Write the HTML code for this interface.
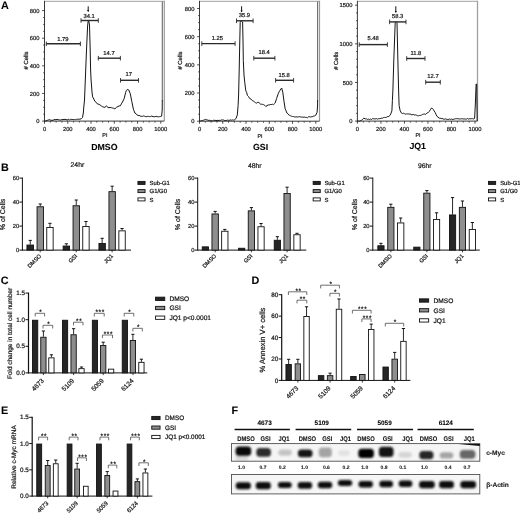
<!DOCTYPE html>
<html><head><meta charset="utf-8"><style>
html,body{margin:0;padding:0;background:#fff;}
svg{display:block;font-family:"Liberation Sans", sans-serif;filter:grayscale(100%);text-rendering:geometricPrecision;}
text{stroke:#1a1a1a;stroke-width:0.22px;}
text[font-weight=bold]{stroke-width:0.08px;}
</style></head><body>
<svg width="520" height="513" viewBox="0 0 520 513">
<rect width="520" height="513" fill="#fff"/>
<text x="1.1" y="8.8" font-size="10.8" text-anchor="start" font-weight="bold" fill="#000" >A</text>
<text x="1.1" y="171.2" font-size="10.8" text-anchor="start" font-weight="bold" fill="#000" >B</text>
<text x="0.7" y="284.1" font-size="10.8" text-anchor="start" font-weight="bold" fill="#000" >C</text>
<text x="251.6" y="283.8" font-size="10.8" text-anchor="start" font-weight="bold" fill="#000" >D</text>
<text x="0.9" y="413.6" font-size="10.8" text-anchor="start" font-weight="bold" fill="#000" >E</text>
<text x="231.4" y="414" font-size="10.8" text-anchor="start" font-weight="bold" fill="#000" >F</text>
<line x1="44.5" y1="1.3" x2="164.3" y2="1.3" stroke="#b3b3b3" stroke-width="1.3" />
<line x1="164.3" y1="0.7" x2="164.3" y2="121.1" stroke="#9a9a9a" stroke-width="1.2" />
<line x1="162.3" y1="100.5" x2="162.3" y2="1.4" stroke="#6a6a6a" stroke-width="1.1" />
<polyline points="44.6,121.2 45.8,120.95 47,120.6 47.93,120.07 48.87,119.9 49.8,119.7 50.9,120.37 52,120.2 53,120.35 54,119.71 55,119.6 56,119.78 57,119.36 58,119.5 58.8,119.86 59.6,119.87 60.4,120.02 61.2,119.67 62,119.8 63,119.45 64,119.41 65,119.4 66,119.5 67,119.97 68,119.7 68.8,119.26 69.6,119.92 70.4,119.4 71.2,119.4 72,119.5 72.86,119.55 73.72,119.55 74.58,119.56 75.44,119.66 76.3,119.4 77.22,119.17 78.15,119.39 79.08,119.09 80,119.2 81.5,118.6 82.5,117.5 83.3,113 83.8,107 84.5,100 85.5,75 86.5,50 87.6,26 88.2,20.8 88.8,21 89.5,25 90.2,50 90.6,70 91.1,80 92,92 92.6,96.9 93.4,98.01 94.2,100 95.2,101.61 96.2,102.25 97.2,103.8 98.12,104.03 99.04,104.45 99.96,104.8 100.88,105.61 101.8,106.2 102.83,106.92 103.87,107.12 104.9,107.4 106.5,105.8 108,107.7 109,107.62 110,107.5 110.87,107.52 111.73,107.78 112.6,108 113.75,108.27 114.9,108.9 116.5,107.3 118,106.5 119.15,105.92 120.3,105.8 121.8,103.1 123,101 124.2,98.5 125.7,92.3 126.5,90.2 127.2,89.5 128,89.76 128.8,90 130.3,93.8 131.8,101.5 133.4,109.2 134.9,113.1 136.05,113.65 137.2,115.1 138.12,115.6 139.04,115.39 139.96,115.89 140.88,116.38 141.8,116.2 142.66,116.31 143.51,115.91 144.37,116.15 145.22,116.51 146.08,116.62 146.93,116.7 147.79,116.26 148.64,116.42 149.5,116.6 150.33,116.63 151.17,116.01 152,116.3 153.1,116.44 154.2,116.9 155.13,116.55 156.07,116.36 157,116.5 157.82,116.79 158.65,116.8 159.48,116.66 160.3,116.5 161.6,116.2 162.2,110 162.3,100" fill="none" stroke="#151515" stroke-width="1.0" stroke-linejoin="round"/>
<line x1="44.5" y1="0.8" x2="44.5" y2="121.5" stroke="#222" stroke-width="0.9" />
<line x1="44.1" y1="121.1" x2="164.3" y2="121.1" stroke="#222" stroke-width="0.9" />
<line x1="42.1" y1="121.1" x2="44.5" y2="121.1" stroke="#222" stroke-width="0.8" />
<text x="39.5" y="123.2" font-size="5.8" text-anchor="end" font-weight="normal" fill="#1a1a1a" >0</text>
<line x1="42.1" y1="93.47" x2="44.5" y2="93.47" stroke="#222" stroke-width="0.8" />
<text x="39.5" y="95.57" font-size="5.8" text-anchor="end" font-weight="normal" fill="#1a1a1a" >200</text>
<line x1="42.1" y1="65.85" x2="44.5" y2="65.85" stroke="#222" stroke-width="0.8" />
<text x="39.5" y="67.95" font-size="5.8" text-anchor="end" font-weight="normal" fill="#1a1a1a" >400</text>
<line x1="42.1" y1="38.22" x2="44.5" y2="38.22" stroke="#222" stroke-width="0.8" />
<text x="39.5" y="40.32" font-size="5.8" text-anchor="end" font-weight="normal" fill="#1a1a1a" >600</text>
<line x1="42.1" y1="10.6" x2="44.5" y2="10.6" stroke="#222" stroke-width="0.8" />
<text x="39.5" y="12.7" font-size="5.8" text-anchor="end" font-weight="normal" fill="#1a1a1a" >800</text>
<line x1="43.1" y1="114.19" x2="44.5" y2="114.19" stroke="#222" stroke-width="0.7" />
<line x1="43.1" y1="107.29" x2="44.5" y2="107.29" stroke="#222" stroke-width="0.7" />
<line x1="43.1" y1="100.38" x2="44.5" y2="100.38" stroke="#222" stroke-width="0.7" />
<line x1="43.1" y1="86.57" x2="44.5" y2="86.57" stroke="#222" stroke-width="0.7" />
<line x1="43.1" y1="79.66" x2="44.5" y2="79.66" stroke="#222" stroke-width="0.7" />
<line x1="43.1" y1="72.76" x2="44.5" y2="72.76" stroke="#222" stroke-width="0.7" />
<line x1="43.1" y1="58.94" x2="44.5" y2="58.94" stroke="#222" stroke-width="0.7" />
<line x1="43.1" y1="52.04" x2="44.5" y2="52.04" stroke="#222" stroke-width="0.7" />
<line x1="43.1" y1="45.13" x2="44.5" y2="45.13" stroke="#222" stroke-width="0.7" />
<line x1="43.1" y1="31.32" x2="44.5" y2="31.32" stroke="#222" stroke-width="0.7" />
<line x1="43.1" y1="24.41" x2="44.5" y2="24.41" stroke="#222" stroke-width="0.7" />
<line x1="43.1" y1="17.51" x2="44.5" y2="17.51" stroke="#222" stroke-width="0.7" />
<line x1="44.5" y1="121.1" x2="44.5" y2="123.7" stroke="#222" stroke-width="0.8" />
<text x="44.5" y="131.1" font-size="5.8" text-anchor="middle" font-weight="normal" fill="#1a1a1a" >0</text>
<line x1="50.31" y1="121.1" x2="50.31" y2="122.7" stroke="#222" stroke-width="0.7" />
<line x1="56.13" y1="121.1" x2="56.13" y2="122.7" stroke="#222" stroke-width="0.7" />
<line x1="61.95" y1="121.1" x2="61.95" y2="122.7" stroke="#222" stroke-width="0.7" />
<line x1="67.76" y1="121.1" x2="67.76" y2="123.7" stroke="#222" stroke-width="0.8" />
<text x="67.76" y="131.1" font-size="5.8" text-anchor="middle" font-weight="normal" fill="#1a1a1a" >200</text>
<line x1="73.58" y1="121.1" x2="73.58" y2="122.7" stroke="#222" stroke-width="0.7" />
<line x1="79.39" y1="121.1" x2="79.39" y2="122.7" stroke="#222" stroke-width="0.7" />
<line x1="85.21" y1="121.1" x2="85.21" y2="122.7" stroke="#222" stroke-width="0.7" />
<line x1="91.02" y1="121.1" x2="91.02" y2="123.7" stroke="#222" stroke-width="0.8" />
<text x="91.02" y="131.1" font-size="5.8" text-anchor="middle" font-weight="normal" fill="#1a1a1a" >400</text>
<line x1="96.84" y1="121.1" x2="96.84" y2="122.7" stroke="#222" stroke-width="0.7" />
<line x1="102.65" y1="121.1" x2="102.65" y2="122.7" stroke="#222" stroke-width="0.7" />
<line x1="108.47" y1="121.1" x2="108.47" y2="122.7" stroke="#222" stroke-width="0.7" />
<line x1="114.28" y1="121.1" x2="114.28" y2="123.7" stroke="#222" stroke-width="0.8" />
<text x="114.28" y="131.1" font-size="5.8" text-anchor="middle" font-weight="normal" fill="#1a1a1a" >600</text>
<line x1="120.1" y1="121.1" x2="120.1" y2="122.7" stroke="#222" stroke-width="0.7" />
<line x1="125.91" y1="121.1" x2="125.91" y2="122.7" stroke="#222" stroke-width="0.7" />
<line x1="131.73" y1="121.1" x2="131.73" y2="122.7" stroke="#222" stroke-width="0.7" />
<line x1="137.54" y1="121.1" x2="137.54" y2="123.7" stroke="#222" stroke-width="0.8" />
<text x="137.54" y="131.1" font-size="5.8" text-anchor="middle" font-weight="normal" fill="#1a1a1a" >800</text>
<line x1="143.36" y1="121.1" x2="143.36" y2="122.7" stroke="#222" stroke-width="0.7" />
<line x1="149.17" y1="121.1" x2="149.17" y2="122.7" stroke="#222" stroke-width="0.7" />
<line x1="154.99" y1="121.1" x2="154.99" y2="122.7" stroke="#222" stroke-width="0.7" />
<line x1="160.8" y1="121.1" x2="160.8" y2="123.7" stroke="#222" stroke-width="0.8" />
<text x="160.8" y="131.1" font-size="5.8" text-anchor="middle" font-weight="normal" fill="#1a1a1a" >1000</text>
<text x="104.9" y="137.4" font-size="5.4" text-anchor="middle" font-weight="normal" fill="#1a1a1a" >PI</text>
<text transform="translate(27.7,60.5) rotate(-90)" font-size="5.9" text-anchor="middle" font-weight="normal" fill="#1a1a1a"># Cells</text>
<line x1="46.3" y1="43.8" x2="80.4" y2="43.8" stroke="#2a2a2a" stroke-width="1.4" />
<line x1="46.3" y1="41.5" x2="46.3" y2="46.1" stroke="#2a2a2a" stroke-width="0.9" />
<line x1="80.4" y1="41.5" x2="80.4" y2="46.1" stroke="#2a2a2a" stroke-width="0.9" />
<text x="62.9" y="40.6" font-size="5.8" text-anchor="middle" font-weight="normal" fill="#1a1a1a" >1.79</text>
<line x1="81" y1="20.5" x2="98.3" y2="20.5" stroke="#2a2a2a" stroke-width="1.4" />
<line x1="81" y1="18.2" x2="81" y2="22.8" stroke="#2a2a2a" stroke-width="0.9" />
<line x1="98.3" y1="18.2" x2="98.3" y2="22.8" stroke="#2a2a2a" stroke-width="0.9" />
<text x="89.1" y="17.5" font-size="5.8" text-anchor="middle" font-weight="normal" fill="#1a1a1a" >34.1</text>
<line x1="98.3" y1="58.2" x2="120.4" y2="58.2" stroke="#2a2a2a" stroke-width="1.4" />
<line x1="98.3" y1="55.9" x2="98.3" y2="60.5" stroke="#2a2a2a" stroke-width="0.9" />
<line x1="120.4" y1="55.9" x2="120.4" y2="60.5" stroke="#2a2a2a" stroke-width="0.9" />
<text x="109" y="54.8" font-size="5.8" text-anchor="middle" font-weight="normal" fill="#1a1a1a" >14.7</text>
<line x1="120.5" y1="80.3" x2="138.5" y2="80.3" stroke="#2a2a2a" stroke-width="1.4" />
<line x1="120.5" y1="78" x2="120.5" y2="82.6" stroke="#2a2a2a" stroke-width="0.9" />
<line x1="138.5" y1="78" x2="138.5" y2="82.6" stroke="#2a2a2a" stroke-width="0.9" />
<text x="128.8" y="76" font-size="5.8" text-anchor="middle" font-weight="normal" fill="#1a1a1a" >17</text>
<line x1="88.2" y1="6.3" x2="88.2" y2="11.4" stroke="#111" stroke-width="1.0" />
<path d="M87.1,10 L88.2,11.9 L89.3,10 Z" fill="#111"/>
<text x="104.4" y="150.2" font-size="8.8" text-anchor="middle" font-weight="bold" fill="#000" >DMSO</text>
<line x1="199.5" y1="1.3" x2="319.5" y2="1.3" stroke="#b3b3b3" stroke-width="1.3" />
<line x1="319.5" y1="0.7" x2="319.5" y2="121.2" stroke="#9a9a9a" stroke-width="1.2" />
<line x1="317.6" y1="100.5" x2="317.6" y2="1.4" stroke="#6a6a6a" stroke-width="1.1" />
<polyline points="199.6,121 200.4,121.07 201.2,120.69 202,120.6 202.82,120.6 203.65,120.12 204.48,119.81 205.3,119.4 206.2,119.71 207.1,119.89 208,120.2 208.9,120.49 209.8,120.22 210.7,120.71 211.6,120.6 212.45,120.9 213.3,120.32 214.15,120.4 215,120.2 216,120.66 217,120.31 218,120.4 218.9,120.63 219.8,120.24 220.7,120.38 221.6,119.92 222.5,119.9 223.38,119.97 224.25,120.39 225.12,120.63 226,120.3 226.8,120.44 227.6,120.11 228.4,120.37 229.2,120.32 230,120.1 230.85,119.88 231.7,120.28 232.55,119.91 233.4,120.1 234.27,120.01 235.13,119.19 236,118.6 237.3,114.9 238.1,105.6 238.6,95 239.2,70 239.8,40 240.2,22.5 241.1,20.7 242.6,22 243,40 243.3,60.5 244,75 244.8,82.8 245.8,90.8 246.7,92.5 247.4,95.4 248.55,96.62 249.7,98.5 250.73,98.89 251.77,100.14 252.8,100.8 253.75,101.29 254.7,102.06 255.65,102.77 256.6,103.1 257.75,102.41 258.9,102.3 259.7,103.33 260.5,104.3 261.5,104.23 262.5,104.32 263.5,104.6 264.65,105.22 265.8,106.5 267,105.65 268.2,104.9 269.2,105.02 270.2,104.47 271.2,104.6 272.35,104.22 273.5,104.6 274.3,103.89 275.1,103.1 276.6,98.5 278.2,93.8 279.2,91.72 280.2,90 281.7,88 282.8,92.3 283.8,100 285.1,108.5 286,110.7 286.9,113.1 287.83,113.61 288.77,114.94 289.7,115.4 290.62,115.84 291.54,116.23 292.46,116.44 293.38,116.52 294.3,116.9 295.19,117.09 296.07,116.52 296.96,117.18 297.84,117.01 298.73,116.71 299.61,116.71 300.5,116.9 301.37,117.05 302.24,117.12 303.11,117.1 303.99,117.32 304.86,116.99 305.73,117.54 306.6,117.4 307.49,117.69 308.37,116.83 309.26,116.73 310.14,116.85 311.03,117.2 311.91,116.48 312.8,116.6 313.8,115.91 314.8,115.92 315.8,115.1 317.1,112.3 317.6,105 317.6,100" fill="none" stroke="#151515" stroke-width="1.0" stroke-linejoin="round"/>
<line x1="199.5" y1="0.8" x2="199.5" y2="121.6" stroke="#222" stroke-width="0.9" />
<line x1="199.1" y1="121.2" x2="319.5" y2="121.2" stroke="#222" stroke-width="0.9" />
<line x1="197.1" y1="121.2" x2="199.5" y2="121.2" stroke="#222" stroke-width="0.8" />
<text x="194.5" y="123.3" font-size="5.8" text-anchor="end" font-weight="normal" fill="#1a1a1a" >0</text>
<line x1="197.1" y1="93.03" x2="199.5" y2="93.03" stroke="#222" stroke-width="0.8" />
<text x="194.5" y="95.12" font-size="5.8" text-anchor="end" font-weight="normal" fill="#1a1a1a" >200</text>
<line x1="197.1" y1="64.85" x2="199.5" y2="64.85" stroke="#222" stroke-width="0.8" />
<text x="194.5" y="66.95" font-size="5.8" text-anchor="end" font-weight="normal" fill="#1a1a1a" >400</text>
<line x1="197.1" y1="36.67" x2="199.5" y2="36.67" stroke="#222" stroke-width="0.8" />
<text x="194.5" y="38.77" font-size="5.8" text-anchor="end" font-weight="normal" fill="#1a1a1a" >600</text>
<line x1="197.1" y1="8.5" x2="199.5" y2="8.5" stroke="#222" stroke-width="0.8" />
<text x="194.5" y="10.6" font-size="5.8" text-anchor="end" font-weight="normal" fill="#1a1a1a" >800</text>
<line x1="198.1" y1="114.16" x2="199.5" y2="114.16" stroke="#222" stroke-width="0.7" />
<line x1="198.1" y1="107.11" x2="199.5" y2="107.11" stroke="#222" stroke-width="0.7" />
<line x1="198.1" y1="100.07" x2="199.5" y2="100.07" stroke="#222" stroke-width="0.7" />
<line x1="198.1" y1="85.98" x2="199.5" y2="85.98" stroke="#222" stroke-width="0.7" />
<line x1="198.1" y1="78.94" x2="199.5" y2="78.94" stroke="#222" stroke-width="0.7" />
<line x1="198.1" y1="71.89" x2="199.5" y2="71.89" stroke="#222" stroke-width="0.7" />
<line x1="198.1" y1="57.81" x2="199.5" y2="57.81" stroke="#222" stroke-width="0.7" />
<line x1="198.1" y1="50.76" x2="199.5" y2="50.76" stroke="#222" stroke-width="0.7" />
<line x1="198.1" y1="43.72" x2="199.5" y2="43.72" stroke="#222" stroke-width="0.7" />
<line x1="198.1" y1="29.63" x2="199.5" y2="29.63" stroke="#222" stroke-width="0.7" />
<line x1="198.1" y1="22.59" x2="199.5" y2="22.59" stroke="#222" stroke-width="0.7" />
<line x1="198.1" y1="15.54" x2="199.5" y2="15.54" stroke="#222" stroke-width="0.7" />
<line x1="199.5" y1="121.2" x2="199.5" y2="123.8" stroke="#222" stroke-width="0.8" />
<text x="199.5" y="131.2" font-size="5.8" text-anchor="middle" font-weight="normal" fill="#1a1a1a" >0</text>
<line x1="205.31" y1="121.2" x2="205.31" y2="122.8" stroke="#222" stroke-width="0.7" />
<line x1="211.13" y1="121.2" x2="211.13" y2="122.8" stroke="#222" stroke-width="0.7" />
<line x1="216.94" y1="121.2" x2="216.94" y2="122.8" stroke="#222" stroke-width="0.7" />
<line x1="222.76" y1="121.2" x2="222.76" y2="123.8" stroke="#222" stroke-width="0.8" />
<text x="222.76" y="131.2" font-size="5.8" text-anchor="middle" font-weight="normal" fill="#1a1a1a" >200</text>
<line x1="228.57" y1="121.2" x2="228.57" y2="122.8" stroke="#222" stroke-width="0.7" />
<line x1="234.39" y1="121.2" x2="234.39" y2="122.8" stroke="#222" stroke-width="0.7" />
<line x1="240.21" y1="121.2" x2="240.21" y2="122.8" stroke="#222" stroke-width="0.7" />
<line x1="246.02" y1="121.2" x2="246.02" y2="123.8" stroke="#222" stroke-width="0.8" />
<text x="246.02" y="131.2" font-size="5.8" text-anchor="middle" font-weight="normal" fill="#1a1a1a" >400</text>
<line x1="251.84" y1="121.2" x2="251.84" y2="122.8" stroke="#222" stroke-width="0.7" />
<line x1="257.65" y1="121.2" x2="257.65" y2="122.8" stroke="#222" stroke-width="0.7" />
<line x1="263.47" y1="121.2" x2="263.47" y2="122.8" stroke="#222" stroke-width="0.7" />
<line x1="269.28" y1="121.2" x2="269.28" y2="123.8" stroke="#222" stroke-width="0.8" />
<text x="269.28" y="131.2" font-size="5.8" text-anchor="middle" font-weight="normal" fill="#1a1a1a" >600</text>
<line x1="275.1" y1="121.2" x2="275.1" y2="122.8" stroke="#222" stroke-width="0.7" />
<line x1="280.91" y1="121.2" x2="280.91" y2="122.8" stroke="#222" stroke-width="0.7" />
<line x1="286.73" y1="121.2" x2="286.73" y2="122.8" stroke="#222" stroke-width="0.7" />
<line x1="292.54" y1="121.2" x2="292.54" y2="123.8" stroke="#222" stroke-width="0.8" />
<text x="292.54" y="131.2" font-size="5.8" text-anchor="middle" font-weight="normal" fill="#1a1a1a" >800</text>
<line x1="298.36" y1="121.2" x2="298.36" y2="122.8" stroke="#222" stroke-width="0.7" />
<line x1="304.17" y1="121.2" x2="304.17" y2="122.8" stroke="#222" stroke-width="0.7" />
<line x1="309.99" y1="121.2" x2="309.99" y2="122.8" stroke="#222" stroke-width="0.7" />
<line x1="315.8" y1="121.2" x2="315.8" y2="123.8" stroke="#222" stroke-width="0.8" />
<text x="315.8" y="131.2" font-size="5.8" text-anchor="middle" font-weight="normal" fill="#1a1a1a" >1000</text>
<text x="260" y="137.5" font-size="5.4" text-anchor="middle" font-weight="normal" fill="#1a1a1a" >PI</text>
<text transform="translate(182.3,60.6) rotate(-90)" font-size="5.9" text-anchor="middle" font-weight="normal" fill="#1a1a1a"># Cells</text>
<line x1="201.8" y1="43.6" x2="235.1" y2="43.6" stroke="#2a2a2a" stroke-width="1.4" />
<line x1="201.8" y1="41.3" x2="201.8" y2="45.9" stroke="#2a2a2a" stroke-width="0.9" />
<line x1="235.1" y1="41.3" x2="235.1" y2="45.9" stroke="#2a2a2a" stroke-width="0.9" />
<text x="217.4" y="40.4" font-size="5.8" text-anchor="middle" font-weight="normal" fill="#1a1a1a" >1.25</text>
<line x1="236.5" y1="20.8" x2="253.1" y2="20.8" stroke="#2a2a2a" stroke-width="1.4" />
<line x1="236.5" y1="18.5" x2="236.5" y2="23.1" stroke="#2a2a2a" stroke-width="0.9" />
<line x1="253.1" y1="18.5" x2="253.1" y2="23.1" stroke="#2a2a2a" stroke-width="0.9" />
<text x="244.4" y="17.2" font-size="5.8" text-anchor="middle" font-weight="normal" fill="#1a1a1a" >35.9</text>
<line x1="253.8" y1="58.2" x2="274.9" y2="58.2" stroke="#2a2a2a" stroke-width="1.4" />
<line x1="253.8" y1="55.9" x2="253.8" y2="60.5" stroke="#2a2a2a" stroke-width="0.9" />
<line x1="274.9" y1="55.9" x2="274.9" y2="60.5" stroke="#2a2a2a" stroke-width="0.9" />
<text x="264.2" y="54.2" font-size="5.8" text-anchor="middle" font-weight="normal" fill="#1a1a1a" >18.4</text>
<line x1="275.6" y1="80.3" x2="293.6" y2="80.3" stroke="#2a2a2a" stroke-width="1.4" />
<line x1="275.6" y1="78" x2="275.6" y2="82.6" stroke="#2a2a2a" stroke-width="0.9" />
<line x1="293.6" y1="78" x2="293.6" y2="82.6" stroke="#2a2a2a" stroke-width="0.9" />
<text x="284.2" y="76.7" font-size="5.8" text-anchor="middle" font-weight="normal" fill="#1a1a1a" >15.8</text>
<line x1="241.6" y1="6.3" x2="241.6" y2="11.8" stroke="#111" stroke-width="1.0" />
<path d="M240.5,10.4 L241.6,12.3 L242.7,10.4 Z" fill="#111"/>
<text x="260.5" y="149.7" font-size="8.8" text-anchor="middle" font-weight="bold" fill="#000" >GSI</text>
<line x1="357.4" y1="1.3" x2="477.5" y2="1.3" stroke="#b3b3b3" stroke-width="1.3" />
<line x1="477.5" y1="0.7" x2="477.5" y2="121.1" stroke="#a0a0a0" stroke-width="1.3" />
<polyline points="357.6,121 358.63,121.23 359.67,121.14 360.7,120.6 361.5,120.28 362.3,119.6 363.8,118.2 365.4,118.9 366.45,118.87 367.5,119.4 368.53,119.14 369.57,119.54 370.6,119.1 371.47,119.46 372.33,118.7 373.2,118.64 374.07,119.08 374.93,118.7 375.8,118.9 376.67,118.58 377.53,119.11 378.4,118.78 379.27,118.64 380.13,118.67 381,118.2 381.87,118.24 382.73,118.12 383.6,117.59 384.47,117.39 385.33,117.5 386.2,117.5 387.03,116.8 387.87,116.49 388.7,116.5 389.75,115.64 390.8,113.9 391.9,110.8 392.4,100.4 392.9,90 393.8,60 395.2,22.6 396.1,21.7 397,22.6 398.1,70 398.6,90 399.1,105.6 400.2,110.8 401.5,113.1 402.53,113.55 403.57,113.19 404.6,113.8 405.52,114.11 406.44,113.88 407.36,113.96 408.28,113.87 409.2,114.2 410.12,113.84 411.04,114.67 411.96,114.79 412.88,114.56 413.8,114.6 414.74,115.11 415.68,114.87 416.62,115.3 417.56,115.72 418.5,115.8 419.5,115.48 420.5,115.41 421.5,115.1 422.44,114.49 423.38,114.21 424.32,113.98 425.26,114.46 426.2,113.8 427.2,112.83 428.2,112.65 429.2,111.5 430.35,109.79 431.5,108 432.3,108.32 433.1,109.2 434.1,110.97 435.1,112.3 436,114.4 436.9,116.2 438.05,117.13 439.2,118.2 440.18,118.1 441.15,118.7 442.12,118.42 443.1,118.9 443.92,119.28 444.75,119.09 445.57,118.91 446.39,119.23 447.22,119.46 448.04,119.36 448.86,119.46 449.68,118.96 450.51,119.38 451.33,119.07 452.15,119.32 452.98,119.53 453.8,119.2 454.66,119.09 455.51,118.69 456.37,118.65 457.22,118.77 458.08,118.63 458.93,118.9 459.79,119.03 460.64,118.88 461.5,118.8 462.35,118.7 463.19,119.1 464.04,118.57 464.88,119.23 465.73,119.04 466.57,119 467.42,118.55 468.26,119.16 469.11,118.72 469.95,118.75 470.8,118.9 471.75,118.6 472.7,118.68 473.65,118.98 474.6,118.5 475.4,103 476.1,84 476.7,84 477.2,121" fill="none" stroke="#151515" stroke-width="1.0" stroke-linejoin="round"/>
<line x1="357.4" y1="0.8" x2="357.4" y2="121.5" stroke="#222" stroke-width="0.9" />
<line x1="357" y1="121.1" x2="477.5" y2="121.1" stroke="#222" stroke-width="0.9" />
<line x1="355" y1="121.1" x2="357.4" y2="121.1" stroke="#222" stroke-width="0.8" />
<text x="352.4" y="123.2" font-size="5.8" text-anchor="end" font-weight="normal" fill="#1a1a1a" >0</text>
<line x1="355" y1="82.47" x2="357.4" y2="82.47" stroke="#222" stroke-width="0.8" />
<text x="352.4" y="84.57" font-size="5.8" text-anchor="end" font-weight="normal" fill="#1a1a1a" >500</text>
<line x1="355" y1="43.83" x2="357.4" y2="43.83" stroke="#222" stroke-width="0.8" />
<text x="352.4" y="45.93" font-size="5.8" text-anchor="end" font-weight="normal" fill="#1a1a1a" >1000</text>
<line x1="355" y1="5.2" x2="357.4" y2="5.2" stroke="#222" stroke-width="0.8" />
<text x="352.4" y="7.3" font-size="5.8" text-anchor="end" font-weight="normal" fill="#1a1a1a" >1500</text>
<line x1="356" y1="113.37" x2="357.4" y2="113.37" stroke="#222" stroke-width="0.7" />
<line x1="356" y1="105.65" x2="357.4" y2="105.65" stroke="#222" stroke-width="0.7" />
<line x1="356" y1="97.92" x2="357.4" y2="97.92" stroke="#222" stroke-width="0.7" />
<line x1="356" y1="90.19" x2="357.4" y2="90.19" stroke="#222" stroke-width="0.7" />
<line x1="356" y1="74.74" x2="357.4" y2="74.74" stroke="#222" stroke-width="0.7" />
<line x1="356" y1="67.01" x2="357.4" y2="67.01" stroke="#222" stroke-width="0.7" />
<line x1="356" y1="59.29" x2="357.4" y2="59.29" stroke="#222" stroke-width="0.7" />
<line x1="356" y1="51.56" x2="357.4" y2="51.56" stroke="#222" stroke-width="0.7" />
<line x1="356" y1="36.11" x2="357.4" y2="36.11" stroke="#222" stroke-width="0.7" />
<line x1="356" y1="28.38" x2="357.4" y2="28.38" stroke="#222" stroke-width="0.7" />
<line x1="356" y1="20.65" x2="357.4" y2="20.65" stroke="#222" stroke-width="0.7" />
<line x1="356" y1="12.93" x2="357.4" y2="12.93" stroke="#222" stroke-width="0.7" />
<line x1="357.4" y1="121.1" x2="357.4" y2="123.7" stroke="#222" stroke-width="0.8" />
<text x="357.4" y="131.1" font-size="5.8" text-anchor="middle" font-weight="normal" fill="#1a1a1a" >0</text>
<line x1="363.28" y1="121.1" x2="363.28" y2="122.7" stroke="#222" stroke-width="0.7" />
<line x1="369.16" y1="121.1" x2="369.16" y2="122.7" stroke="#222" stroke-width="0.7" />
<line x1="375.04" y1="121.1" x2="375.04" y2="122.7" stroke="#222" stroke-width="0.7" />
<line x1="380.92" y1="121.1" x2="380.92" y2="123.7" stroke="#222" stroke-width="0.8" />
<text x="380.92" y="131.1" font-size="5.8" text-anchor="middle" font-weight="normal" fill="#1a1a1a" >200</text>
<line x1="386.8" y1="121.1" x2="386.8" y2="122.7" stroke="#222" stroke-width="0.7" />
<line x1="392.68" y1="121.1" x2="392.68" y2="122.7" stroke="#222" stroke-width="0.7" />
<line x1="398.56" y1="121.1" x2="398.56" y2="122.7" stroke="#222" stroke-width="0.7" />
<line x1="404.44" y1="121.1" x2="404.44" y2="123.7" stroke="#222" stroke-width="0.8" />
<text x="404.44" y="131.1" font-size="5.8" text-anchor="middle" font-weight="normal" fill="#1a1a1a" >400</text>
<line x1="410.32" y1="121.1" x2="410.32" y2="122.7" stroke="#222" stroke-width="0.7" />
<line x1="416.2" y1="121.1" x2="416.2" y2="122.7" stroke="#222" stroke-width="0.7" />
<line x1="422.08" y1="121.1" x2="422.08" y2="122.7" stroke="#222" stroke-width="0.7" />
<line x1="427.96" y1="121.1" x2="427.96" y2="123.7" stroke="#222" stroke-width="0.8" />
<text x="427.96" y="131.1" font-size="5.8" text-anchor="middle" font-weight="normal" fill="#1a1a1a" >600</text>
<line x1="433.84" y1="121.1" x2="433.84" y2="122.7" stroke="#222" stroke-width="0.7" />
<line x1="439.72" y1="121.1" x2="439.72" y2="122.7" stroke="#222" stroke-width="0.7" />
<line x1="445.6" y1="121.1" x2="445.6" y2="122.7" stroke="#222" stroke-width="0.7" />
<line x1="451.48" y1="121.1" x2="451.48" y2="123.7" stroke="#222" stroke-width="0.8" />
<text x="451.48" y="131.1" font-size="5.8" text-anchor="middle" font-weight="normal" fill="#1a1a1a" >800</text>
<line x1="457.36" y1="121.1" x2="457.36" y2="122.7" stroke="#222" stroke-width="0.7" />
<line x1="463.24" y1="121.1" x2="463.24" y2="122.7" stroke="#222" stroke-width="0.7" />
<line x1="469.12" y1="121.1" x2="469.12" y2="122.7" stroke="#222" stroke-width="0.7" />
<line x1="475" y1="121.1" x2="475" y2="123.7" stroke="#222" stroke-width="0.8" />
<text x="475" y="131.1" font-size="5.8" text-anchor="middle" font-weight="normal" fill="#1a1a1a" >1000</text>
<text x="417.95" y="137.4" font-size="5.4" text-anchor="middle" font-weight="normal" fill="#1a1a1a" >PI</text>
<text transform="translate(338.2,60.8) rotate(-90)" font-size="5.9" text-anchor="middle" font-weight="normal" fill="#1a1a1a"># Cells</text>
<line x1="359.2" y1="44.6" x2="387.4" y2="44.6" stroke="#2a2a2a" stroke-width="1.4" />
<line x1="359.2" y1="42.3" x2="359.2" y2="46.9" stroke="#2a2a2a" stroke-width="0.9" />
<line x1="387.4" y1="42.3" x2="387.4" y2="46.9" stroke="#2a2a2a" stroke-width="0.9" />
<text x="373.1" y="40" font-size="5.8" text-anchor="middle" font-weight="normal" fill="#1a1a1a" >5.48</text>
<line x1="389.6" y1="21.9" x2="406" y2="21.9" stroke="#2a2a2a" stroke-width="1.4" />
<line x1="389.6" y1="19.6" x2="389.6" y2="24.2" stroke="#2a2a2a" stroke-width="0.9" />
<line x1="406" y1="19.6" x2="406" y2="24.2" stroke="#2a2a2a" stroke-width="0.9" />
<text x="397.6" y="17.7" font-size="5.8" text-anchor="middle" font-weight="normal" fill="#1a1a1a" >58.3</text>
<line x1="406.7" y1="58.5" x2="425" y2="58.5" stroke="#2a2a2a" stroke-width="1.4" />
<line x1="406.7" y1="56.2" x2="406.7" y2="60.8" stroke="#2a2a2a" stroke-width="0.9" />
<line x1="425" y1="56.2" x2="425" y2="60.8" stroke="#2a2a2a" stroke-width="0.9" />
<text x="415.9" y="55.3" font-size="5.8" text-anchor="middle" font-weight="normal" fill="#1a1a1a" >11.8</text>
<line x1="425.7" y1="82.2" x2="440.3" y2="82.2" stroke="#2a2a2a" stroke-width="1.4" />
<line x1="425.7" y1="79.9" x2="425.7" y2="84.5" stroke="#2a2a2a" stroke-width="0.9" />
<line x1="440.3" y1="79.9" x2="440.3" y2="84.5" stroke="#2a2a2a" stroke-width="0.9" />
<text x="433" y="77.6" font-size="5.8" text-anchor="middle" font-weight="normal" fill="#1a1a1a" >12.7</text>
<line x1="395.8" y1="6.3" x2="395.8" y2="12.3" stroke="#111" stroke-width="1.0" />
<path d="M394.7,10.9 L395.8,12.8 L396.9,10.9 Z" fill="#111"/>
<text x="417.7" y="149.2" font-size="8.8" text-anchor="middle" font-weight="bold" fill="#000" >JQ1</text>
<line x1="22.4" y1="177.6" x2="22.4" y2="250.6" stroke="#111" stroke-width="1.0" />
<line x1="19.4" y1="250.1" x2="22.4" y2="250.1" stroke="#111" stroke-width="1.0" />
<text x="19.2" y="252.2" font-size="5.8" text-anchor="end" font-weight="normal" fill="#1a1a1a" >0</text>
<line x1="19.4" y1="226.1" x2="22.4" y2="226.1" stroke="#111" stroke-width="1.0" />
<text x="19.2" y="228.2" font-size="5.8" text-anchor="end" font-weight="normal" fill="#1a1a1a" >20</text>
<line x1="19.4" y1="202.1" x2="22.4" y2="202.1" stroke="#111" stroke-width="1.0" />
<text x="19.2" y="204.2" font-size="5.8" text-anchor="end" font-weight="normal" fill="#1a1a1a" >40</text>
<line x1="19.4" y1="178.1" x2="22.4" y2="178.1" stroke="#111" stroke-width="1.0" />
<text x="19.2" y="180.2" font-size="5.8" text-anchor="end" font-weight="normal" fill="#1a1a1a" >60</text>
<line x1="22" y1="250.1" x2="131" y2="250.1" stroke="#111" stroke-width="1.0" />
<line x1="30.25" y1="244.6" x2="30.25" y2="240.4" stroke="#111" stroke-width="0.9" />
<line x1="28.65" y1="240.4" x2="31.85" y2="240.4" stroke="#111" stroke-width="1.0" />
<rect x="26.95" y="245.05" width="6.6" height="5.05" fill="#262626" stroke="#111" stroke-width="0.9" />
<line x1="40.25" y1="206.3" x2="40.25" y2="204" stroke="#111" stroke-width="0.9" />
<line x1="38.65" y1="204" x2="41.85" y2="204" stroke="#111" stroke-width="1.0" />
<rect x="37.05" y="206.75" width="6.4" height="43.35" fill="#8e8e8e" stroke="#111" stroke-width="0.9" />
<line x1="49.95" y1="227" x2="49.95" y2="223.3" stroke="#111" stroke-width="0.9" />
<line x1="48.35" y1="223.3" x2="51.55" y2="223.3" stroke="#111" stroke-width="1.0" />
<rect x="46.75" y="227.45" width="6.4" height="22.65" fill="#ffffff" stroke="#111" stroke-width="0.9" />
<line x1="66.35" y1="245.6" x2="66.35" y2="243.8" stroke="#111" stroke-width="0.9" />
<line x1="64.75" y1="243.8" x2="67.95" y2="243.8" stroke="#111" stroke-width="1.0" />
<rect x="63.15" y="246.05" width="6.4" height="4.05" fill="#262626" stroke="#111" stroke-width="0.9" />
<line x1="76.25" y1="205.3" x2="76.25" y2="200" stroke="#111" stroke-width="0.9" />
<line x1="74.65" y1="200" x2="77.85" y2="200" stroke="#111" stroke-width="1.0" />
<rect x="73.05" y="205.75" width="6.4" height="44.35" fill="#8e8e8e" stroke="#111" stroke-width="0.9" />
<line x1="85.95" y1="226" x2="85.95" y2="221.5" stroke="#111" stroke-width="0.9" />
<line x1="84.35" y1="221.5" x2="87.55" y2="221.5" stroke="#111" stroke-width="1.0" />
<rect x="82.75" y="226.45" width="6.4" height="23.65" fill="#ffffff" stroke="#111" stroke-width="0.9" />
<line x1="102.15" y1="243" x2="102.15" y2="238.3" stroke="#111" stroke-width="0.9" />
<line x1="100.55" y1="238.3" x2="103.75" y2="238.3" stroke="#111" stroke-width="1.0" />
<rect x="98.95" y="243.45" width="6.4" height="6.65" fill="#262626" stroke="#111" stroke-width="0.9" />
<line x1="112.15" y1="191.2" x2="112.15" y2="186.2" stroke="#111" stroke-width="0.9" />
<line x1="110.55" y1="186.2" x2="113.75" y2="186.2" stroke="#111" stroke-width="1.0" />
<rect x="108.95" y="191.65" width="6.4" height="58.45" fill="#8e8e8e" stroke="#111" stroke-width="0.9" />
<line x1="122.05" y1="230.4" x2="122.05" y2="228.5" stroke="#111" stroke-width="0.9" />
<line x1="120.45" y1="228.5" x2="123.65" y2="228.5" stroke="#111" stroke-width="1.0" />
<rect x="118.85" y="230.85" width="6.4" height="19.25" fill="#ffffff" stroke="#111" stroke-width="0.9" />
<line x1="40.2" y1="250.1" x2="40.2" y2="252.3" stroke="#111" stroke-width="0.8" />
<text transform="translate(41.6,256.4) rotate(-45)" font-size="5.6" text-anchor="end" font-weight="normal" fill="#1a1a1a">DMSO</text>
<line x1="76.2" y1="250.1" x2="76.2" y2="252.3" stroke="#111" stroke-width="0.8" />
<text transform="translate(77.6,256.4) rotate(-45)" font-size="5.6" text-anchor="end" font-weight="normal" fill="#1a1a1a">GSI</text>
<line x1="112.1" y1="250.1" x2="112.1" y2="252.3" stroke="#111" stroke-width="0.8" />
<text transform="translate(113.5,256.4) rotate(-45)" font-size="5.6" text-anchor="end" font-weight="normal" fill="#1a1a1a">JQ1</text>
<text x="77.4" y="167.3" font-size="6.8" text-anchor="middle" font-weight="normal" fill="#1a1a1a" >24hr</text>
<rect x="137.95" y="181.4" width="7.1" height="3" fill="#262626" stroke="#111" stroke-width="0.9" />
<text x="149.6" y="185.02" font-size="5.9" text-anchor="start" font-weight="normal" fill="#111" >Sub-G1</text>
<rect x="137.95" y="189.6" width="7.1" height="3" fill="#8e8e8e" stroke="#111" stroke-width="0.9" />
<text x="149.6" y="193.22" font-size="5.9" text-anchor="start" font-weight="normal" fill="#111" >G1/G0</text>
<rect x="137.95" y="197.9" width="7.1" height="3" fill="#ffffff" stroke="#111" stroke-width="0.9" />
<text x="149.6" y="201.52" font-size="5.9" text-anchor="start" font-weight="normal" fill="#111" >S</text>
<text transform="translate(5.2,214.4) rotate(-90)" font-size="7.0" text-anchor="middle" font-weight="normal" fill="#1a1a1a">% of Cells</text>
<line x1="197.7" y1="177.6" x2="197.7" y2="250.6" stroke="#111" stroke-width="1.0" />
<line x1="194.7" y1="250.1" x2="197.7" y2="250.1" stroke="#111" stroke-width="1.0" />
<text x="194.5" y="252.2" font-size="5.8" text-anchor="end" font-weight="normal" fill="#1a1a1a" >0</text>
<line x1="194.7" y1="226.1" x2="197.7" y2="226.1" stroke="#111" stroke-width="1.0" />
<text x="194.5" y="228.2" font-size="5.8" text-anchor="end" font-weight="normal" fill="#1a1a1a" >20</text>
<line x1="194.7" y1="202.1" x2="197.7" y2="202.1" stroke="#111" stroke-width="1.0" />
<text x="194.5" y="204.2" font-size="5.8" text-anchor="end" font-weight="normal" fill="#1a1a1a" >40</text>
<line x1="194.7" y1="178.1" x2="197.7" y2="178.1" stroke="#111" stroke-width="1.0" />
<text x="194.5" y="180.2" font-size="5.8" text-anchor="end" font-weight="normal" fill="#1a1a1a" >60</text>
<line x1="197.3" y1="250.1" x2="306.3" y2="250.1" stroke="#111" stroke-width="1.0" />
<rect x="202.25" y="246.85" width="6.2" height="3.25" fill="#262626" stroke="#111" stroke-width="0.9" />
<line x1="215.15" y1="213.5" x2="215.15" y2="211.4" stroke="#111" stroke-width="0.9" />
<line x1="213.55" y1="211.4" x2="216.75" y2="211.4" stroke="#111" stroke-width="1.0" />
<rect x="211.95" y="213.95" width="6.4" height="36.15" fill="#8e8e8e" stroke="#111" stroke-width="0.9" />
<line x1="224.8" y1="230.8" x2="224.8" y2="229.4" stroke="#111" stroke-width="0.9" />
<line x1="223.2" y1="229.4" x2="226.4" y2="229.4" stroke="#111" stroke-width="1.0" />
<rect x="221.65" y="231.25" width="6.3" height="18.85" fill="#ffffff" stroke="#111" stroke-width="0.9" />
<rect x="238.55" y="248.25" width="6.2" height="1.85" fill="#262626" stroke="#111" stroke-width="0.9" />
<line x1="251.4" y1="210.4" x2="251.4" y2="207.6" stroke="#111" stroke-width="0.9" />
<line x1="249.8" y1="207.6" x2="253" y2="207.6" stroke="#111" stroke-width="1.0" />
<rect x="248.25" y="210.85" width="6.3" height="39.25" fill="#8e8e8e" stroke="#111" stroke-width="0.9" />
<line x1="261.05" y1="226.3" x2="261.05" y2="223.5" stroke="#111" stroke-width="0.9" />
<line x1="259.45" y1="223.5" x2="262.65" y2="223.5" stroke="#111" stroke-width="1.0" />
<rect x="257.95" y="226.75" width="6.2" height="23.35" fill="#ffffff" stroke="#111" stroke-width="0.9" />
<line x1="277.35" y1="239.8" x2="277.35" y2="236.7" stroke="#111" stroke-width="0.9" />
<line x1="275.75" y1="236.7" x2="278.95" y2="236.7" stroke="#111" stroke-width="1.0" />
<rect x="274.25" y="240.25" width="6.2" height="9.85" fill="#262626" stroke="#111" stroke-width="0.9" />
<line x1="287.1" y1="193" x2="287.1" y2="187.2" stroke="#111" stroke-width="0.9" />
<line x1="285.5" y1="187.2" x2="288.7" y2="187.2" stroke="#111" stroke-width="1.0" />
<rect x="283.95" y="193.45" width="6.3" height="56.65" fill="#8e8e8e" stroke="#111" stroke-width="0.9" />
<line x1="297" y1="234.3" x2="297" y2="233.3" stroke="#111" stroke-width="0.9" />
<line x1="295.4" y1="233.3" x2="298.6" y2="233.3" stroke="#111" stroke-width="1.0" />
<rect x="293.85" y="234.75" width="6.3" height="15.35" fill="#ffffff" stroke="#111" stroke-width="0.9" />
<line x1="215.2" y1="250.1" x2="215.2" y2="252.3" stroke="#111" stroke-width="0.8" />
<text transform="translate(216.6,256.4) rotate(-45)" font-size="5.6" text-anchor="end" font-weight="normal" fill="#1a1a1a">DMSO</text>
<line x1="251.4" y1="250.1" x2="251.4" y2="252.3" stroke="#111" stroke-width="0.8" />
<text transform="translate(252.8,256.4) rotate(-45)" font-size="5.6" text-anchor="end" font-weight="normal" fill="#1a1a1a">GSI</text>
<line x1="287.1" y1="250.1" x2="287.1" y2="252.3" stroke="#111" stroke-width="0.8" />
<text transform="translate(288.5,256.4) rotate(-45)" font-size="5.6" text-anchor="end" font-weight="normal" fill="#1a1a1a">JQ1</text>
<text x="254.8" y="167.5" font-size="6.8" text-anchor="middle" font-weight="normal" fill="#1a1a1a" >48hr</text>
<rect x="313.15" y="181.4" width="7.1" height="3" fill="#262626" stroke="#111" stroke-width="0.9" />
<text x="324.4" y="185.02" font-size="5.9" text-anchor="start" font-weight="normal" fill="#111" >Sub-G1</text>
<rect x="313.15" y="189.6" width="7.1" height="3" fill="#8e8e8e" stroke="#111" stroke-width="0.9" />
<text x="324.4" y="193.22" font-size="5.9" text-anchor="start" font-weight="normal" fill="#111" >G1/G0</text>
<rect x="313.15" y="197.9" width="7.1" height="3" fill="#ffffff" stroke="#111" stroke-width="0.9" />
<text x="324.4" y="201.52" font-size="5.9" text-anchor="start" font-weight="normal" fill="#111" >S</text>
<text transform="translate(179.5,214.4) rotate(-90)" font-size="7.0" text-anchor="middle" font-weight="normal" fill="#1a1a1a">% of Cells</text>
<line x1="372.8" y1="177.6" x2="372.8" y2="250.6" stroke="#111" stroke-width="1.0" />
<line x1="369.8" y1="250.1" x2="372.8" y2="250.1" stroke="#111" stroke-width="1.0" />
<text x="369.6" y="252.2" font-size="5.8" text-anchor="end" font-weight="normal" fill="#1a1a1a" >0</text>
<line x1="369.8" y1="226.1" x2="372.8" y2="226.1" stroke="#111" stroke-width="1.0" />
<text x="369.6" y="228.2" font-size="5.8" text-anchor="end" font-weight="normal" fill="#1a1a1a" >20</text>
<line x1="369.8" y1="202.1" x2="372.8" y2="202.1" stroke="#111" stroke-width="1.0" />
<text x="369.6" y="204.2" font-size="5.8" text-anchor="end" font-weight="normal" fill="#1a1a1a" >40</text>
<line x1="369.8" y1="178.1" x2="372.8" y2="178.1" stroke="#111" stroke-width="1.0" />
<text x="369.6" y="180.2" font-size="5.8" text-anchor="end" font-weight="normal" fill="#1a1a1a" >60</text>
<line x1="372.4" y1="250.1" x2="479.8" y2="250.1" stroke="#111" stroke-width="1.0" />
<line x1="380.95" y1="245.3" x2="380.95" y2="243.3" stroke="#111" stroke-width="0.9" />
<line x1="379.35" y1="243.3" x2="382.55" y2="243.3" stroke="#111" stroke-width="1.0" />
<rect x="377.85" y="245.75" width="6.2" height="4.35" fill="#262626" stroke="#111" stroke-width="0.9" />
<line x1="390.85" y1="206.9" x2="390.85" y2="204.2" stroke="#111" stroke-width="0.9" />
<line x1="389.25" y1="204.2" x2="392.45" y2="204.2" stroke="#111" stroke-width="1.0" />
<rect x="387.75" y="207.35" width="6.2" height="42.75" fill="#8e8e8e" stroke="#111" stroke-width="0.9" />
<line x1="400.7" y1="222.5" x2="400.7" y2="218" stroke="#111" stroke-width="0.9" />
<line x1="399.1" y1="218" x2="402.3" y2="218" stroke="#111" stroke-width="1.0" />
<rect x="397.55" y="222.95" width="6.3" height="27.15" fill="#ffffff" stroke="#111" stroke-width="0.9" />
<rect x="413.75" y="247.15" width="6.2" height="2.95" fill="#262626" stroke="#111" stroke-width="0.9" />
<line x1="426.85" y1="192.7" x2="426.85" y2="190.6" stroke="#111" stroke-width="0.9" />
<line x1="425.25" y1="190.6" x2="428.45" y2="190.6" stroke="#111" stroke-width="1.0" />
<rect x="423.75" y="193.15" width="6.2" height="56.95" fill="#8e8e8e" stroke="#111" stroke-width="0.9" />
<line x1="436.55" y1="219" x2="436.55" y2="212.8" stroke="#111" stroke-width="0.9" />
<line x1="434.95" y1="212.8" x2="438.15" y2="212.8" stroke="#111" stroke-width="1.0" />
<rect x="433.45" y="219.45" width="6.2" height="30.65" fill="#ffffff" stroke="#111" stroke-width="0.9" />
<line x1="452.55" y1="214.5" x2="452.55" y2="197.6" stroke="#111" stroke-width="0.9" />
<line x1="450.95" y1="197.6" x2="454.15" y2="197.6" stroke="#111" stroke-width="1.0" />
<rect x="449.45" y="214.95" width="6.2" height="35.15" fill="#262626" stroke="#111" stroke-width="0.9" />
<line x1="462.45" y1="206.9" x2="462.45" y2="201" stroke="#111" stroke-width="0.9" />
<line x1="460.85" y1="201" x2="464.05" y2="201" stroke="#111" stroke-width="1.0" />
<rect x="459.35" y="207.35" width="6.2" height="42.75" fill="#8e8e8e" stroke="#111" stroke-width="0.9" />
<line x1="472.35" y1="229" x2="472.35" y2="222.5" stroke="#111" stroke-width="0.9" />
<line x1="470.75" y1="222.5" x2="473.95" y2="222.5" stroke="#111" stroke-width="1.0" />
<rect x="469.25" y="229.45" width="6.2" height="20.65" fill="#ffffff" stroke="#111" stroke-width="0.9" />
<line x1="390.9" y1="250.1" x2="390.9" y2="252.3" stroke="#111" stroke-width="0.8" />
<text transform="translate(392.3,256.4) rotate(-45)" font-size="5.6" text-anchor="end" font-weight="normal" fill="#1a1a1a">DMSO</text>
<line x1="426.9" y1="250.1" x2="426.9" y2="252.3" stroke="#111" stroke-width="0.8" />
<text transform="translate(428.3,256.4) rotate(-45)" font-size="5.6" text-anchor="end" font-weight="normal" fill="#1a1a1a">GSI</text>
<line x1="462.5" y1="250.1" x2="462.5" y2="252.3" stroke="#111" stroke-width="0.8" />
<text transform="translate(463.9,256.4) rotate(-45)" font-size="5.6" text-anchor="end" font-weight="normal" fill="#1a1a1a">JQ1</text>
<text x="424.8" y="167.5" font-size="6.8" text-anchor="middle" font-weight="normal" fill="#1a1a1a" >96hr</text>
<rect x="488.55" y="181.4" width="7.1" height="3" fill="#262626" stroke="#111" stroke-width="0.9" />
<text x="500.2" y="185.02" font-size="5.9" text-anchor="start" font-weight="normal" fill="#111" >Sub-G1</text>
<rect x="488.55" y="189.6" width="7.1" height="3" fill="#8e8e8e" stroke="#111" stroke-width="0.9" />
<text x="500.2" y="193.22" font-size="5.9" text-anchor="start" font-weight="normal" fill="#111" >G1/G0</text>
<rect x="488.55" y="197.9" width="7.1" height="3" fill="#ffffff" stroke="#111" stroke-width="0.9" />
<text x="500.2" y="201.52" font-size="5.9" text-anchor="start" font-weight="normal" fill="#111" >S</text>
<text transform="translate(356.5,214.4) rotate(-90)" font-size="7.0" text-anchor="middle" font-weight="normal" fill="#1a1a1a">% of Cells</text>
<line x1="28.5" y1="292.6" x2="28.5" y2="373.4" stroke="#111" stroke-width="1.2" />
<line x1="25.5" y1="372.9" x2="28.5" y2="372.9" stroke="#111" stroke-width="1.0" />
<text x="25.1" y="375" font-size="6.3" text-anchor="end" font-weight="normal" fill="#1a1a1a" >0.0</text>
<line x1="25.5" y1="346.3" x2="28.5" y2="346.3" stroke="#111" stroke-width="1.0" />
<text x="25.1" y="348.4" font-size="6.3" text-anchor="end" font-weight="normal" fill="#1a1a1a" >0.5</text>
<line x1="25.5" y1="319.7" x2="28.5" y2="319.7" stroke="#111" stroke-width="1.0" />
<text x="25.1" y="321.8" font-size="6.3" text-anchor="end" font-weight="normal" fill="#1a1a1a" >1.0</text>
<line x1="25.5" y1="293.1" x2="28.5" y2="293.1" stroke="#111" stroke-width="1.0" />
<text x="25.1" y="295.2" font-size="6.3" text-anchor="end" font-weight="normal" fill="#1a1a1a" >1.5</text>
<line x1="28.1" y1="372.9" x2="147.3" y2="372.9" stroke="#111" stroke-width="1.0" />
<rect x="32.45" y="320.25" width="5.3" height="52.65" fill="#262626" stroke="#111" stroke-width="0.9" />
<line x1="43.4" y1="336.8" x2="43.4" y2="331" stroke="#111" stroke-width="0.9" />
<line x1="41.8" y1="331" x2="45" y2="331" stroke="#111" stroke-width="1.0" />
<rect x="40.75" y="337.25" width="5.3" height="35.65" fill="#8e8e8e" stroke="#111" stroke-width="0.9" />
<line x1="51.4" y1="357.4" x2="51.4" y2="354.8" stroke="#111" stroke-width="0.9" />
<line x1="49.8" y1="354.8" x2="53" y2="354.8" stroke="#111" stroke-width="1.0" />
<rect x="48.75" y="357.85" width="5.3" height="15.05" fill="#ffffff" stroke="#111" stroke-width="0.9" />
<rect x="62.45" y="320.25" width="5.2" height="52.65" fill="#262626" stroke="#111" stroke-width="0.9" />
<line x1="73.6" y1="334.3" x2="73.6" y2="328.7" stroke="#111" stroke-width="0.9" />
<line x1="72" y1="328.7" x2="75.2" y2="328.7" stroke="#111" stroke-width="1.0" />
<rect x="70.95" y="334.75" width="5.3" height="38.15" fill="#8e8e8e" stroke="#111" stroke-width="0.9" />
<line x1="81.5" y1="368.2" x2="81.5" y2="367" stroke="#111" stroke-width="0.9" />
<line x1="79.9" y1="367" x2="83.1" y2="367" stroke="#111" stroke-width="1.0" />
<rect x="78.85" y="368.65" width="5.3" height="4.25" fill="#ffffff" stroke="#111" stroke-width="0.9" />
<rect x="92.35" y="320.25" width="5.2" height="52.65" fill="#262626" stroke="#111" stroke-width="0.9" />
<line x1="103.2" y1="345.1" x2="103.2" y2="342.2" stroke="#111" stroke-width="0.9" />
<line x1="101.6" y1="342.2" x2="104.8" y2="342.2" stroke="#111" stroke-width="1.0" />
<rect x="100.55" y="345.55" width="5.3" height="27.35" fill="#8e8e8e" stroke="#111" stroke-width="0.9" />
<rect x="108.45" y="369.15" width="5.3" height="3.75" fill="#ffffff" stroke="#111" stroke-width="0.9" />
<rect x="122.25" y="320.25" width="5.2" height="52.65" fill="#262626" stroke="#111" stroke-width="0.9" />
<line x1="132.9" y1="340" x2="132.9" y2="334.3" stroke="#111" stroke-width="0.9" />
<line x1="131.3" y1="334.3" x2="134.5" y2="334.3" stroke="#111" stroke-width="1.0" />
<rect x="130.25" y="340.45" width="5.3" height="32.45" fill="#8e8e8e" stroke="#111" stroke-width="0.9" />
<line x1="141.4" y1="361.9" x2="141.4" y2="359.2" stroke="#111" stroke-width="0.9" />
<line x1="139.8" y1="359.2" x2="143" y2="359.2" stroke="#111" stroke-width="1.0" />
<rect x="138.75" y="362.35" width="5.3" height="10.55" fill="#ffffff" stroke="#111" stroke-width="0.9" />
<line x1="43.4" y1="372.9" x2="43.4" y2="375.1" stroke="#111" stroke-width="0.8" />
<text transform="translate(44.4,381.3) rotate(-45)" font-size="6.5" text-anchor="end" font-weight="normal" fill="#1a1a1a">4673</text>
<line x1="73.6" y1="372.9" x2="73.6" y2="375.1" stroke="#111" stroke-width="0.8" />
<text transform="translate(74.6,381.3) rotate(-45)" font-size="6.5" text-anchor="end" font-weight="normal" fill="#1a1a1a">5109</text>
<line x1="103.2" y1="372.9" x2="103.2" y2="375.1" stroke="#111" stroke-width="0.8" />
<text transform="translate(104.2,381.3) rotate(-45)" font-size="6.5" text-anchor="end" font-weight="normal" fill="#1a1a1a">5059</text>
<line x1="133" y1="372.9" x2="133" y2="375.1" stroke="#111" stroke-width="0.8" />
<text transform="translate(134,381.3) rotate(-45)" font-size="6.5" text-anchor="end" font-weight="normal" fill="#1a1a1a">6124</text>
<polyline points="35.2,316.5 35.2,313.3 44.6,313.3 44.6,316.5" fill="none" stroke="#555" stroke-width="0.85"/>
<text x="40.8" y="314.1" font-size="6.4" text-anchor="middle" font-weight="normal" fill="#1a1a1a" letter-spacing="0.6">*</text>
<polyline points="43,328.5 43,325.3 52.7,325.3 52.7,328.5" fill="none" stroke="#555" stroke-width="0.85"/>
<text x="48.75" y="326.1" font-size="6.4" text-anchor="middle" font-weight="normal" fill="#1a1a1a" letter-spacing="0.6">*</text>
<polyline points="73.5,325.4 73.5,322.2 83,322.2 83,325.4" fill="none" stroke="#555" stroke-width="0.85"/>
<text x="79.15" y="323" font-size="6.4" text-anchor="middle" font-weight="normal" fill="#1a1a1a" letter-spacing="0.6">**</text>
<polyline points="94.3,316.5 94.3,313.3 104.2,313.3 104.2,316.5" fill="none" stroke="#555" stroke-width="0.85"/>
<text x="100.15" y="314.1" font-size="6.4" text-anchor="middle" font-weight="normal" fill="#1a1a1a" letter-spacing="0.6">***</text>
<polyline points="102.4,338.2 102.4,335 112.5,335 112.5,338.2" fill="none" stroke="#555" stroke-width="0.85"/>
<text x="108.35" y="335.8" font-size="6.4" text-anchor="middle" font-weight="normal" fill="#1a1a1a" letter-spacing="0.6">***</text>
<polyline points="124.2,316.5 124.2,313.3 133.8,313.3 133.8,316.5" fill="none" stroke="#555" stroke-width="0.85"/>
<text x="129.9" y="314.1" font-size="6.4" text-anchor="middle" font-weight="normal" fill="#1a1a1a" letter-spacing="0.6">*</text>
<polyline points="132.9,331.5 132.9,328.3 142.3,328.3 142.3,331.5" fill="none" stroke="#555" stroke-width="0.85"/>
<text x="138.5" y="329.1" font-size="6.4" text-anchor="middle" font-weight="normal" fill="#1a1a1a" letter-spacing="0.6">*</text>
<text transform="translate(11.7,333.4) rotate(-90)" font-size="6.45" text-anchor="middle" font-weight="normal" fill="#1a1a1a">Fold change in total cell number</text>
<rect x="155.55" y="297.15" width="9.2" height="3.3" fill="#262626" stroke="#111" stroke-width="0.9" />
<text x="169.4" y="301.18" font-size="6.6" text-anchor="start" font-weight="normal" fill="#111" >DMSO</text>
<rect x="155.55" y="306.35" width="9.2" height="3.3" fill="#8e8e8e" stroke="#111" stroke-width="0.9" />
<text x="169.4" y="310.38" font-size="6.6" text-anchor="start" font-weight="normal" fill="#111" >GSI</text>
<rect x="155.55" y="316.05" width="9.2" height="3.3" fill="#ffffff" stroke="#111" stroke-width="0.9" />
<text x="169.4" y="320.08" font-size="6.6" text-anchor="start" font-weight="normal" fill="#111" >JQ1 p&lt;0.0001</text>
<line x1="281.7" y1="294.2" x2="281.7" y2="380.9" stroke="#111" stroke-width="1.2" />
<line x1="278.7" y1="380.4" x2="281.7" y2="380.4" stroke="#111" stroke-width="1.0" />
<text x="278.3" y="382.5" font-size="6.3" text-anchor="end" font-weight="normal" fill="#1a1a1a" >0</text>
<line x1="278.7" y1="358.97" x2="281.7" y2="358.97" stroke="#111" stroke-width="1.0" />
<text x="278.3" y="361.07" font-size="6.3" text-anchor="end" font-weight="normal" fill="#1a1a1a" >20</text>
<line x1="278.7" y1="337.55" x2="281.7" y2="337.55" stroke="#111" stroke-width="1.0" />
<text x="278.3" y="339.65" font-size="6.3" text-anchor="end" font-weight="normal" fill="#1a1a1a" >40</text>
<line x1="278.7" y1="316.12" x2="281.7" y2="316.12" stroke="#111" stroke-width="1.0" />
<text x="278.3" y="318.23" font-size="6.3" text-anchor="end" font-weight="normal" fill="#1a1a1a" >60</text>
<line x1="278.7" y1="294.7" x2="281.7" y2="294.7" stroke="#111" stroke-width="1.0" />
<text x="278.3" y="296.8" font-size="6.3" text-anchor="end" font-weight="normal" fill="#1a1a1a" >80</text>
<line x1="281.3" y1="380.4" x2="410.4" y2="380.4" stroke="#111" stroke-width="1.0" />
<line x1="288.65" y1="364" x2="288.65" y2="359.3" stroke="#111" stroke-width="0.9" />
<line x1="287.05" y1="359.3" x2="290.25" y2="359.3" stroke="#111" stroke-width="1.0" />
<rect x="285.95" y="364.45" width="5.4" height="15.95" fill="#262626" stroke="#111" stroke-width="0.9" />
<line x1="297.85" y1="363.4" x2="297.85" y2="359.3" stroke="#111" stroke-width="0.9" />
<line x1="296.25" y1="359.3" x2="299.45" y2="359.3" stroke="#111" stroke-width="1.0" />
<rect x="295.15" y="363.85" width="5.4" height="16.55" fill="#8e8e8e" stroke="#111" stroke-width="0.9" />
<line x1="306.55" y1="316" x2="306.55" y2="306.8" stroke="#111" stroke-width="0.9" />
<line x1="304.95" y1="306.8" x2="308.15" y2="306.8" stroke="#111" stroke-width="1.0" />
<rect x="303.85" y="316.45" width="5.4" height="63.95" fill="#ffffff" stroke="#111" stroke-width="0.9" />
<rect x="318.35" y="375.65" width="5.5" height="4.75" fill="#262626" stroke="#111" stroke-width="0.9" />
<line x1="330.1" y1="375.2" x2="330.1" y2="373.2" stroke="#111" stroke-width="0.9" />
<line x1="328.5" y1="373.2" x2="331.7" y2="373.2" stroke="#111" stroke-width="1.0" />
<rect x="327.35" y="375.65" width="5.5" height="4.75" fill="#8e8e8e" stroke="#111" stroke-width="0.9" />
<line x1="339" y1="308.8" x2="339" y2="299" stroke="#111" stroke-width="0.9" />
<line x1="337.4" y1="299" x2="340.6" y2="299" stroke="#111" stroke-width="1.0" />
<rect x="336.25" y="309.25" width="5.5" height="71.15" fill="#ffffff" stroke="#111" stroke-width="0.9" />
<rect x="350.65" y="376.45" width="5.5" height="3.95" fill="#262626" stroke="#111" stroke-width="0.9" />
<rect x="359.55" y="374.45" width="5.5" height="5.95" fill="#8e8e8e" stroke="#111" stroke-width="0.9" />
<line x1="371.2" y1="329" x2="371.2" y2="324.1" stroke="#111" stroke-width="0.9" />
<line x1="369.6" y1="324.1" x2="372.8" y2="324.1" stroke="#111" stroke-width="1.0" />
<rect x="368.45" y="329.45" width="5.5" height="50.95" fill="#ffffff" stroke="#111" stroke-width="0.9" />
<rect x="382.95" y="367.05" width="5.4" height="13.35" fill="#262626" stroke="#111" stroke-width="0.9" />
<line x1="394.7" y1="358.7" x2="394.7" y2="352.4" stroke="#111" stroke-width="0.9" />
<line x1="393.1" y1="352.4" x2="396.3" y2="352.4" stroke="#111" stroke-width="1.0" />
<rect x="391.95" y="359.15" width="5.5" height="21.25" fill="#8e8e8e" stroke="#111" stroke-width="0.9" />
<line x1="403.45" y1="340.9" x2="403.45" y2="328.5" stroke="#111" stroke-width="0.9" />
<line x1="401.85" y1="328.5" x2="405.05" y2="328.5" stroke="#111" stroke-width="1.0" />
<rect x="400.75" y="341.35" width="5.4" height="39.05" fill="#ffffff" stroke="#111" stroke-width="0.9" />
<line x1="297.9" y1="380.4" x2="297.9" y2="382.6" stroke="#111" stroke-width="0.8" />
<text transform="translate(298.9,388.8) rotate(-45)" font-size="6.5" text-anchor="end" font-weight="normal" fill="#1a1a1a">4673</text>
<line x1="330.1" y1="380.4" x2="330.1" y2="382.6" stroke="#111" stroke-width="0.8" />
<text transform="translate(331.1,388.8) rotate(-45)" font-size="6.5" text-anchor="end" font-weight="normal" fill="#1a1a1a">5109</text>
<line x1="362.3" y1="380.4" x2="362.3" y2="382.6" stroke="#111" stroke-width="0.8" />
<text transform="translate(363.3,388.8) rotate(-45)" font-size="6.5" text-anchor="end" font-weight="normal" fill="#1a1a1a">5059</text>
<line x1="394.7" y1="380.4" x2="394.7" y2="382.6" stroke="#111" stroke-width="0.8" />
<text transform="translate(395.7,388.8) rotate(-45)" font-size="6.5" text-anchor="end" font-weight="normal" fill="#1a1a1a">6124</text>
<polyline points="288.4,295 288.4,291.8 306.8,291.8 306.8,295" fill="none" stroke="#555" stroke-width="0.85"/>
<text x="298.5" y="292.6" font-size="6.4" text-anchor="middle" font-weight="normal" fill="#1a1a1a" letter-spacing="0.6">**</text>
<polyline points="297,303.4 297,300.2 306.8,300.2 306.8,303.4" fill="none" stroke="#555" stroke-width="0.85"/>
<text x="302.8" y="301" font-size="6.4" text-anchor="middle" font-weight="normal" fill="#1a1a1a" letter-spacing="0.6">**</text>
<polyline points="320.7,288.4 320.7,285.2 339.4,285.2 339.4,288.4" fill="none" stroke="#555" stroke-width="0.85"/>
<text x="330.95" y="286" font-size="6.4" text-anchor="middle" font-weight="normal" fill="#1a1a1a" letter-spacing="0.6">*</text>
<polyline points="329.9,296.5 329.9,293.3 339.4,293.3 339.4,296.5" fill="none" stroke="#555" stroke-width="0.85"/>
<text x="335.55" y="294.1" font-size="6.4" text-anchor="middle" font-weight="normal" fill="#1a1a1a" letter-spacing="0.6">*</text>
<polyline points="352.4,313.5 352.4,310.3 371.1,310.3 371.1,313.5" fill="none" stroke="#555" stroke-width="0.85"/>
<text x="362.65" y="311.1" font-size="6.4" text-anchor="middle" font-weight="normal" fill="#1a1a1a" letter-spacing="0.6">***</text>
<polyline points="361.9,322.1 361.9,318.9 371.1,318.9 371.1,322.1" fill="none" stroke="#555" stroke-width="0.85"/>
<text x="367.4" y="319.7" font-size="6.4" text-anchor="middle" font-weight="normal" fill="#1a1a1a" letter-spacing="0.6">***</text>
<polyline points="385.3,326.5 385.3,323.3 403.7,323.3 403.7,326.5" fill="none" stroke="#555" stroke-width="0.85"/>
<text x="395.4" y="324.1" font-size="6.4" text-anchor="middle" font-weight="normal" fill="#1a1a1a" letter-spacing="0.6">*</text>
<text transform="translate(265,340) rotate(-90)" font-size="7.6" text-anchor="middle" font-weight="normal" fill="#1a1a1a">% Annexin V+ cells</text>
<rect x="419.45" y="298.85" width="9.2" height="3.3" fill="#262626" stroke="#111" stroke-width="0.9" />
<text x="433.5" y="302.88" font-size="6.6" text-anchor="start" font-weight="normal" fill="#111" >DMSO</text>
<rect x="419.45" y="308.65" width="9.2" height="3.3" fill="#8e8e8e" stroke="#111" stroke-width="0.9" />
<text x="433.5" y="312.68" font-size="6.6" text-anchor="start" font-weight="normal" fill="#111" >GSI</text>
<rect x="419.45" y="318.75" width="9.2" height="3.3" fill="#ffffff" stroke="#111" stroke-width="0.9" />
<text x="433.5" y="322.78" font-size="6.6" text-anchor="start" font-weight="normal" fill="#111" >JQ1</text>
<line x1="32.2" y1="416.8" x2="32.2" y2="496.6" stroke="#111" stroke-width="1.2" />
<line x1="29.2" y1="496.1" x2="32.2" y2="496.1" stroke="#111" stroke-width="1.0" />
<text x="28.8" y="498.2" font-size="6.3" text-anchor="end" font-weight="normal" fill="#1a1a1a" >0.0</text>
<line x1="29.2" y1="469.83" x2="32.2" y2="469.83" stroke="#111" stroke-width="1.0" />
<text x="28.8" y="471.93" font-size="6.3" text-anchor="end" font-weight="normal" fill="#1a1a1a" >0.5</text>
<line x1="29.2" y1="443.57" x2="32.2" y2="443.57" stroke="#111" stroke-width="1.0" />
<text x="28.8" y="445.67" font-size="6.3" text-anchor="end" font-weight="normal" fill="#1a1a1a" >1.0</text>
<line x1="29.2" y1="417.3" x2="32.2" y2="417.3" stroke="#111" stroke-width="1.0" />
<text x="28.8" y="419.4" font-size="6.3" text-anchor="end" font-weight="normal" fill="#1a1a1a" >1.5</text>
<line x1="31.8" y1="496.1" x2="152.4" y2="496.1" stroke="#111" stroke-width="1.0" />
<rect x="36.75" y="444.05" width="4.9" height="52.05" fill="#262626" stroke="#111" stroke-width="0.9" />
<line x1="47.7" y1="465.1" x2="47.7" y2="460.5" stroke="#111" stroke-width="0.9" />
<line x1="46.1" y1="460.5" x2="49.3" y2="460.5" stroke="#111" stroke-width="1.0" />
<rect x="45.25" y="465.55" width="4.9" height="30.55" fill="#8e8e8e" stroke="#111" stroke-width="0.9" />
<line x1="55.75" y1="463.3" x2="55.75" y2="460" stroke="#111" stroke-width="0.9" />
<line x1="54.15" y1="460" x2="57.35" y2="460" stroke="#111" stroke-width="1.0" />
<rect x="53.35" y="463.75" width="4.8" height="32.35" fill="#ffffff" stroke="#111" stroke-width="0.9" />
<rect x="67.15" y="444.05" width="4.8" height="52.05" fill="#262626" stroke="#111" stroke-width="0.9" />
<line x1="77.15" y1="468.6" x2="77.15" y2="463.3" stroke="#111" stroke-width="0.9" />
<line x1="75.55" y1="463.3" x2="78.75" y2="463.3" stroke="#111" stroke-width="1.0" />
<rect x="74.75" y="469.05" width="4.8" height="27.05" fill="#8e8e8e" stroke="#111" stroke-width="0.9" />
<rect x="83.45" y="486.25" width="4.7" height="9.85" fill="#ffffff" stroke="#111" stroke-width="0.9" />
<rect x="96.55" y="444.05" width="4.8" height="52.05" fill="#262626" stroke="#111" stroke-width="0.9" />
<line x1="107.25" y1="475" x2="107.25" y2="471.6" stroke="#111" stroke-width="0.9" />
<line x1="105.65" y1="471.6" x2="108.85" y2="471.6" stroke="#111" stroke-width="1.0" />
<rect x="104.85" y="475.45" width="4.8" height="20.65" fill="#8e8e8e" stroke="#111" stroke-width="0.9" />
<rect x="113.05" y="491.05" width="4.9" height="5.05" fill="#ffffff" stroke="#111" stroke-width="0.9" />
<rect x="127.15" y="444.05" width="4.7" height="52.05" fill="#262626" stroke="#111" stroke-width="0.9" />
<line x1="137.35" y1="481.2" x2="137.35" y2="478.9" stroke="#111" stroke-width="0.9" />
<line x1="135.75" y1="478.9" x2="138.95" y2="478.9" stroke="#111" stroke-width="1.0" />
<rect x="134.95" y="481.65" width="4.8" height="14.45" fill="#8e8e8e" stroke="#111" stroke-width="0.9" />
<line x1="145.4" y1="472.5" x2="145.4" y2="469" stroke="#111" stroke-width="0.9" />
<line x1="143.8" y1="469" x2="147" y2="469" stroke="#111" stroke-width="1.0" />
<rect x="142.95" y="472.95" width="4.9" height="23.15" fill="#ffffff" stroke="#111" stroke-width="0.9" />
<line x1="47.7" y1="496.1" x2="47.7" y2="498.3" stroke="#111" stroke-width="0.8" />
<text transform="translate(48.7,503.7) rotate(-45)" font-size="5.9" text-anchor="end" font-weight="normal" fill="#1a1a1a">4673</text>
<line x1="77.2" y1="496.1" x2="77.2" y2="498.3" stroke="#111" stroke-width="0.8" />
<text transform="translate(78.2,503.7) rotate(-45)" font-size="5.9" text-anchor="end" font-weight="normal" fill="#1a1a1a">5109</text>
<line x1="107.2" y1="496.1" x2="107.2" y2="498.3" stroke="#111" stroke-width="0.8" />
<text transform="translate(108.2,503.7) rotate(-45)" font-size="5.9" text-anchor="end" font-weight="normal" fill="#1a1a1a">5059</text>
<line x1="137.4" y1="496.1" x2="137.4" y2="498.3" stroke="#111" stroke-width="0.8" />
<text transform="translate(138.4,503.7) rotate(-45)" font-size="5.9" text-anchor="end" font-weight="normal" fill="#1a1a1a">6124</text>
<polyline points="38.6,440.3 38.6,437.1 47.6,437.1 47.6,440.3" fill="none" stroke="#555" stroke-width="0.85"/>
<text x="44" y="437.9" font-size="6.4" text-anchor="middle" font-weight="normal" fill="#1a1a1a" letter-spacing="0.6">**</text>
<polyline points="69.2,440.3 69.2,437.1 78,437.1 78,440.3" fill="none" stroke="#555" stroke-width="0.85"/>
<text x="74.5" y="437.9" font-size="6.4" text-anchor="middle" font-weight="normal" fill="#1a1a1a" letter-spacing="0.6">**</text>
<polyline points="77.5,461 77.5,457.8 86.4,457.8 86.4,461" fill="none" stroke="#555" stroke-width="0.85"/>
<text x="82.85" y="458.6" font-size="6.4" text-anchor="middle" font-weight="normal" fill="#1a1a1a" letter-spacing="0.6">***</text>
<polyline points="100,440.3 100,437.1 108.7,437.1 108.7,440.3" fill="none" stroke="#555" stroke-width="0.85"/>
<text x="105.25" y="437.9" font-size="6.4" text-anchor="middle" font-weight="normal" fill="#1a1a1a" letter-spacing="0.6">***</text>
<polyline points="108.3,468.3 108.3,465.1 116.8,465.1 116.8,468.3" fill="none" stroke="#555" stroke-width="0.85"/>
<text x="113.45" y="465.9" font-size="6.4" text-anchor="middle" font-weight="normal" fill="#1a1a1a" letter-spacing="0.6">**</text>
<polyline points="130.6,440.3 130.6,437.1 139.3,437.1 139.3,440.3" fill="none" stroke="#555" stroke-width="0.85"/>
<text x="135.85" y="437.9" font-size="6.4" text-anchor="middle" font-weight="normal" fill="#1a1a1a" letter-spacing="0.6">***</text>
<polyline points="138.9,466 138.9,462.8 148.3,462.8 148.3,466" fill="none" stroke="#555" stroke-width="0.85"/>
<text x="144.5" y="463.6" font-size="6.4" text-anchor="middle" font-weight="normal" fill="#1a1a1a" letter-spacing="0.6">*</text>
<text transform="translate(15.9,457) rotate(-90)" font-size="6.5" text-anchor="middle" font-weight="normal" fill="#1a1a1a">Relative c-Myc mRNA</text>
<rect x="151.75" y="416.4" width="8.3" height="3.2" fill="#262626" stroke="#111" stroke-width="0.9" />
<text x="165" y="420.3" font-size="6.4" text-anchor="start" font-weight="normal" fill="#111" >DMSO</text>
<rect x="151.75" y="426" width="8.3" height="3.2" fill="#8e8e8e" stroke="#111" stroke-width="0.9" />
<text x="165" y="429.9" font-size="6.4" text-anchor="start" font-weight="normal" fill="#111" >GSI</text>
<rect x="151.75" y="435.4" width="8.3" height="3.2" fill="#ffffff" stroke="#111" stroke-width="0.9" />
<text x="165" y="439.3" font-size="6.4" text-anchor="start" font-weight="normal" fill="#111" >JQ1 p&lt;0.0001</text>
<text x="264.6" y="424.9" font-size="6.4" text-anchor="middle" font-weight="bold" fill="#000" >4673</text>
<line x1="234.6" y1="429.5" x2="289.9" y2="429.5" stroke="#111" stroke-width="1.3" />
<text x="321.7" y="424.9" font-size="6.4" text-anchor="middle" font-weight="bold" fill="#000" >5109</text>
<line x1="295.6" y1="429.5" x2="351.2" y2="429.5" stroke="#111" stroke-width="1.3" />
<text x="384.6" y="424.9" font-size="6.4" text-anchor="middle" font-weight="bold" fill="#000" >5059</text>
<line x1="357" y1="429.5" x2="413" y2="429.5" stroke="#111" stroke-width="1.3" />
<text x="445.8" y="424.9" font-size="6.4" text-anchor="middle" font-weight="bold" fill="#000" >6124</text>
<line x1="417.5" y1="429.5" x2="473.8" y2="429.5" stroke="#111" stroke-width="1.3" />
<text transform="translate(246,440.8) scale(0.87,1)" font-size="6.7" text-anchor="middle" font-weight="bold" fill="#111" style="stroke-width:0.1px">DMSO</text>
<text transform="translate(265.6,440.8) scale(0.87,1)" font-size="6.7" text-anchor="middle" font-weight="bold" fill="#111" style="stroke-width:0.1px">GSI</text>
<text transform="translate(284,440.8) scale(0.87,1)" font-size="6.7" text-anchor="middle" font-weight="bold" fill="#111" style="stroke-width:0.1px">JQ1</text>
<text transform="translate(307.4,440.8) scale(0.87,1)" font-size="6.7" text-anchor="middle" font-weight="bold" fill="#111" style="stroke-width:0.1px">DMSO</text>
<text transform="translate(327.3,440.8) scale(0.87,1)" font-size="6.7" text-anchor="middle" font-weight="bold" fill="#111" style="stroke-width:0.1px">GSI</text>
<text transform="translate(345.5,440.8) scale(0.87,1)" font-size="6.7" text-anchor="middle" font-weight="bold" fill="#111" style="stroke-width:0.1px">JQ1</text>
<text transform="translate(366,440.8) scale(0.87,1)" font-size="6.7" text-anchor="middle" font-weight="bold" fill="#111" style="stroke-width:0.1px">DMSO</text>
<text transform="translate(387.7,440.8) scale(0.87,1)" font-size="6.7" text-anchor="middle" font-weight="bold" fill="#111" style="stroke-width:0.1px">GSI</text>
<text transform="translate(407.7,440.8) scale(0.87,1)" font-size="6.7" text-anchor="middle" font-weight="bold" fill="#111" style="stroke-width:0.1px">JQ1</text>
<text transform="translate(428.5,440.8) scale(0.87,1)" font-size="6.7" text-anchor="middle" font-weight="bold" fill="#111" style="stroke-width:0.1px">DMSO</text>
<text transform="translate(448.6,440.8) scale(0.87,1)" font-size="6.7" text-anchor="middle" font-weight="bold" fill="#111" style="stroke-width:0.1px">GSI</text>
<text transform="translate(469.2,440.8) scale(0.87,1)" font-size="6.7" text-anchor="middle" font-weight="bold" fill="#111" style="stroke-width:0.1px">JQ1</text>
<text x="241.5" y="469.2" font-size="5.0" text-anchor="middle" font-weight="bold" fill="#1a1a1a" >1.0</text>
<text x="263" y="469.2" font-size="5.0" text-anchor="middle" font-weight="bold" fill="#1a1a1a" >0.7</text>
<text x="282.3" y="469.2" font-size="5.0" text-anchor="middle" font-weight="bold" fill="#1a1a1a" >0.2</text>
<text x="304.5" y="469.2" font-size="5.0" text-anchor="middle" font-weight="bold" fill="#1a1a1a" >1.0</text>
<text x="326.4" y="469.2" font-size="5.0" text-anchor="middle" font-weight="bold" fill="#1a1a1a" >0.6</text>
<text x="346.1" y="469.2" font-size="5.0" text-anchor="middle" font-weight="bold" fill="#1a1a1a" >0.2</text>
<text x="364.7" y="469.2" font-size="5.0" text-anchor="middle" font-weight="bold" fill="#1a1a1a" >1.0</text>
<text x="384.1" y="469.2" font-size="5.0" text-anchor="middle" font-weight="bold" fill="#1a1a1a" >0.8</text>
<text x="402.8" y="469.2" font-size="5.0" text-anchor="middle" font-weight="bold" fill="#1a1a1a" >0.1</text>
<text x="424.4" y="469.2" font-size="5.0" text-anchor="middle" font-weight="bold" fill="#1a1a1a" >1.0</text>
<text x="448.1" y="469.2" font-size="5.0" text-anchor="middle" font-weight="bold" fill="#1a1a1a" >0.4</text>
<text x="467.1" y="469.2" font-size="5.0" text-anchor="middle" font-weight="bold" fill="#1a1a1a" >0.7</text>
<defs><filter id="bl" x="-50%" y="-80%" width="200%" height="260%"><feGaussianBlur stdDeviation="1.3"/></filter><filter id="bl2" x="-50%" y="-80%" width="200%" height="260%"><feGaussianBlur stdDeviation="0.8"/></filter><filter id="bl3" x="-50%" y="-80%" width="200%" height="260%"><feGaussianBlur stdDeviation="0.6"/></filter></defs>
<rect x="231.5" y="443.6" width="248.3" height="17.6" fill="#f5f5f5" stroke="#505050" stroke-width="0.9" />
<rect x="231.5" y="474.5" width="248.3" height="19.4" fill="#f6f6f6" stroke="#505050" stroke-width="0.9" />
<g filter="url(#bl)">
<rect x="235.6" y="446.55" width="15.6" height="9.3" rx="3.5" fill="#000" fill-opacity="0.97"/>
<rect x="256.3" y="448" width="14.6" height="8.8" rx="3.5" fill="#000" fill-opacity="0.82"/>
<rect x="278.3" y="449.45" width="13.6" height="6.3" rx="3.5" fill="#000" fill-opacity="0.2"/>
<rect x="297.9" y="449.5" width="14.6" height="7.8" rx="3.5" fill="#000" fill-opacity="0.92"/>
<rect x="318.75" y="447.5" width="13.1" height="9.8" rx="3.5" fill="#000" fill-opacity="0.33"/>
<rect x="338.2" y="450.1" width="11.6" height="5.8" rx="3.5" fill="#000" fill-opacity="0.08"/>
<rect x="358.3" y="448.75" width="15.6" height="9.3" rx="3.5" fill="#000" fill-opacity="1.0"/>
<rect x="378.9" y="446.65" width="14.6" height="10.3" rx="3.5" fill="#000" fill-opacity="0.92"/>
<rect x="398.4" y="451.9" width="13.6" height="5.8" rx="3.5" fill="#000" fill-opacity="0.13"/>
<rect x="419.35" y="451.05" width="14.1" height="8.3" rx="3.5" fill="#000" fill-opacity="0.85"/>
<rect x="439.7" y="452.25" width="13.6" height="6.3" rx="3.5" fill="#000" fill-opacity="0.33"/>
<rect x="459.8" y="450" width="15.6" height="8.8" rx="3.5" fill="#000" fill-opacity="0.58"/>
</g>
<rect x="236" y="455" width="12" height="5.5" fill="#000" fill-opacity="0.12" filter="url(#bl)"/>
<path d="M458.5,443.9 L479.8,443.9 L479.8,446.0 Z" fill="#111"/>
<g filter="url(#bl2)">
<rect x="235.8" y="482.2" width="15" height="7" rx="3" fill="#0a0a0a"/>
<rect x="255.8" y="482.1" width="15" height="7.2" rx="3" fill="#0a0a0a"/>
<rect x="277.9" y="482.1" width="13.8" height="6" rx="3" fill="#0a0a0a"/>
<rect x="297.7" y="482.1" width="14.4" height="6.6" rx="3" fill="#0a0a0a"/>
<rect x="317.8" y="481.7" width="14.4" height="6.6" rx="3" fill="#0a0a0a"/>
<rect x="337.8" y="479.9" width="14.4" height="6.2" rx="3" fill="#0a0a0a"/>
<rect x="358.5" y="480.9" width="14.4" height="6.6" rx="3" fill="#0a0a0a"/>
<rect x="379.4" y="480.8" width="13.6" height="6.4" rx="3" fill="#0a0a0a"/>
<rect x="398.7" y="480.6" width="13.6" height="6.4" rx="3" fill="#0a0a0a"/>
<rect x="419.1" y="481" width="15.6" height="7.2" rx="3" fill="#0a0a0a"/>
<rect x="439.1" y="481" width="14.8" height="7.2" rx="3" fill="#0a0a0a"/>
<rect x="460.4" y="481" width="15.6" height="7.2" rx="3" fill="#0a0a0a"/>
</g>
<text x="486.2" y="455.2" font-size="6.6" text-anchor="start" font-weight="bold" fill="#111" >c-Myc</text>
<text x="486.2" y="486.9" font-size="6.6" text-anchor="start" font-weight="bold" fill="#111" >&#946;-Actin</text>
</svg></body></html>
